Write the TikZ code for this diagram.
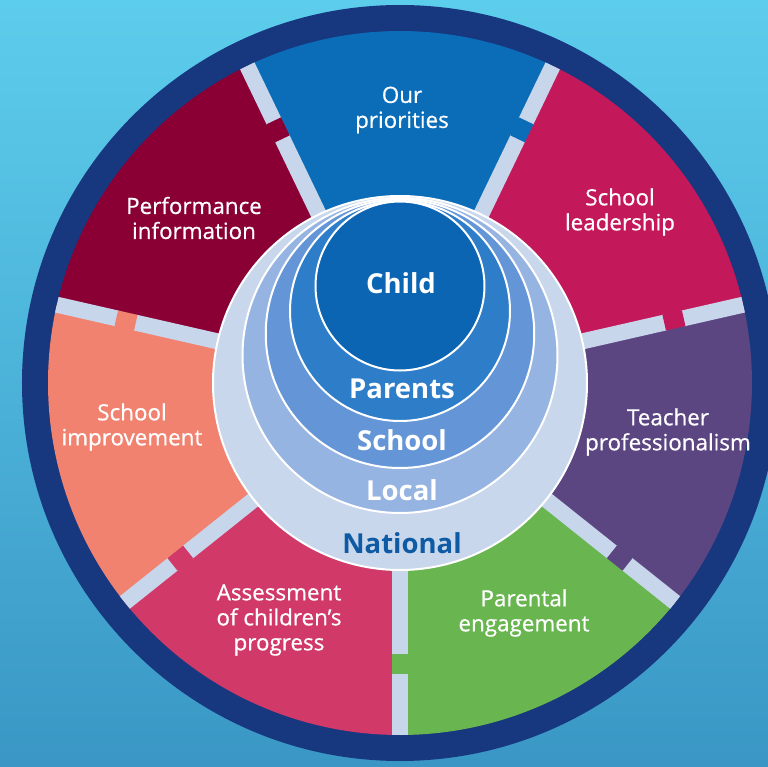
\documentclass[tikz,border=0pt]{standalone}
\usepackage{fontspec}
\setmainfont{Open Sans}
\newfontfamily\segfont[FakeBold=0.6]{Open Sans}
\definecolor{bgtop}{HTML}{5DCDEC}
\definecolor{bgbot}{HTML}{3A97C5}
\definecolor{navy}{HTML}{17377F}
\definecolor{prioblue}{HTML}{0B6DB8}
\definecolor{leadred}{HTML}{C3185A}
\definecolor{teachpurple}{HTML}{5C4682}
\definecolor{parentgreen}{HTML}{69B54F}
\definecolor{assesspink}{HTML}{D13A68}
\definecolor{improvesalmon}{HTML}{F1826F}
\definecolor{perfmaroon}{HTML}{8A0035}
\definecolor{divgray}{HTML}{C8D6EC}
\definecolor{natfill}{HTML}{C8D7EB}
\definecolor{localfill}{HTML}{96B4E1}
\definecolor{schoolfill}{HTML}{6496D7}
\definecolor{parentsfill}{HTML}{2D7DC8}
\definecolor{childfill}{HTML}{0B65B3}
\definecolor{nattext}{HTML}{0F5AA5}
\tikzset{
  segtext/.style={text=white,align=center,font=\segfont\fontsize{22.4}{25}\selectfont},
  ringtext/.style={text=white,font=\fontsize{27.5}{30}\selectfont\bfseries},
  divider/.style={line width=16pt,divgray},
  ring/.style={draw=white,line width=2pt}
}
\begin{document}
\begin{tikzpicture}[x=1pt,y=1pt]
      \shade[top color=bgtop,bottom color=bgbot] (-400,-383) rectangle (368,383);
      \useasboundingbox (-400,-383) rectangle (368,383);
      \fill[navy] (0,0) circle (378);
      \fill[prioblue] (0,0) -- (64.286:352) arc[start angle=64.286,end angle=115.714,radius=352] -- cycle;
      \fill[perfmaroon] (0,0) -- (115.714:352) arc[start angle=115.714,end angle=167.143,radius=352] -- cycle;
      \fill[improvesalmon] (0,0) -- (167.143:352) arc[start angle=167.143,end angle=218.571,radius=352] -- cycle;
      \fill[assesspink] (0,0) -- (218.571:352) arc[start angle=218.571,end angle=270,radius=352] -- cycle;
      \fill[parentgreen] (0,0) -- (270:352) arc[start angle=270,end angle=321.429,radius=352] -- cycle;
      \fill[teachpurple] (0,0) -- (321.429:352) arc[start angle=321.429,end angle=372.857,radius=352] -- cycle;
      \fill[leadred] (0,0) -- (12.857:352) arc[start angle=12.857,end angle=64.286,radius=352] -- cycle;
      \begin{scope}[divider]
        \draw (64.286:150) -- (64.286:272) (64.286:290) -- (64.286:352);
        \draw (115.714:150) -- (115.714:272) (115.714:290) -- (115.714:352);
        \draw (167.143:150) -- (167.143:272) (167.143:290) -- (167.143:352);
        \draw (218.571:150) -- (218.571:272) (218.571:290) -- (218.571:352);
        \draw (270:150) -- (270:272) (270:290) -- (270:352);
        \draw (321.429:150) -- (321.429:272) (321.429:290) -- (321.429:352);
        \draw (12.857:150) -- (12.857:272) (12.857:290) -- (12.857:352);
        \draw[prioblue] (64.286:271) -- (64.286:291);
        \draw[perfmaroon] (115.714:271) -- (115.714:291);
        \draw[improvesalmon] (167.143:271) -- (167.143:291);
        \draw[assesspink] (218.571:271) -- (218.571:291);
        \draw[parentgreen] (270:271) -- (270:291);
        \draw[teachpurple] (321.429:271) -- (321.429:291);
        \draw[leadred] (12.857:271) -- (12.857:291);
      \end{scope}
      \draw[ring,fill=natfill] (0,0) circle (187);
      \draw[ring,fill=localfill] (0,27.5) circle (157.5);
      \draw[ring,fill=schoolfill] (0,49.25) circle (134.25);
      \draw[ring,fill=parentsfill] (0,72) circle (110);
      \draw[ring,fill=childfill] (0,97) circle (84.5);
      \node[segtext] (priorities) at (2,273) {Our\\priorities};
      \node[segtext] (performance) at (-206,165) {Performance\\information};
      \node[segtext] (leadership) at (220,171) {School\\leadership};
      \node[segtext] (teacher) at (268,-49) {Teacher\\professionalism};
      \node[segtext] (parental) at (124,-230) {Parental\\engagement};
      \node[segtext] (assessment) at (-121,-237) {Assessment\\of children’s\\progress};
      \node[segtext] (improvement) at (-268,-44) {School\\improvement};
      \node[ringtext] (child) at (1,100) {Child};
      \node[ringtext] (parents) at (2,-6) {Parents};
      \node[ringtext] (school) at (2,-57) {School};
      \node[ringtext] (local) at (2,-107) {Local};
      \node[ringtext,text=nattext] (national) at (2,-160) {National};
    \end{tikzpicture}
\end{document}
